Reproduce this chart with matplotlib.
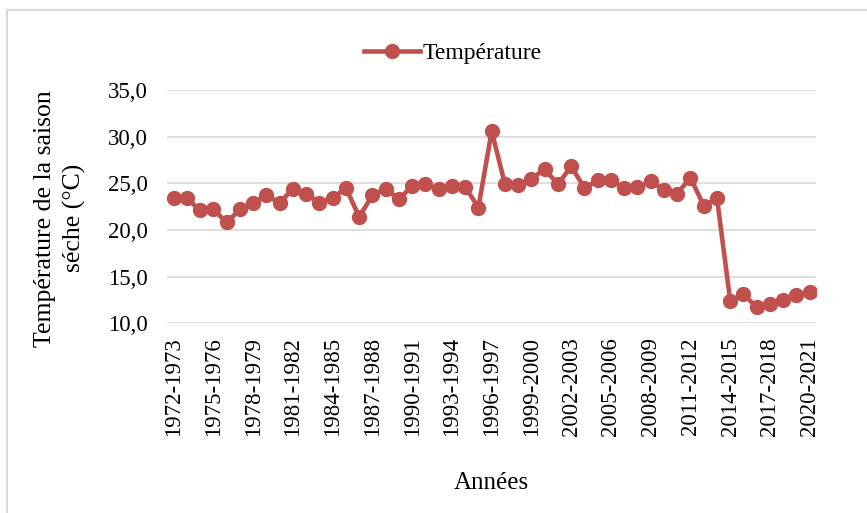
import matplotlib.pyplot as plt
from matplotlib.ticker import FuncFormatter
from matplotlib.lines import Line2D

plt.rcParams['font.family'] = ['Liberation Serif', 'DejaVu Serif']

# saisons 1972-1973 ... 2020-2021
annees = [f"{y}-{y + 1}" for y in range(1972, 2021)]
temperature = [23.4, 23.4, 22.1, 22.2, 20.8, 22.2, 22.9, 23.7, 22.9, 24.4,
               23.9, 22.9, 23.4, 24.5, 21.4, 23.7, 24.4, 23.3, 24.7, 24.9,
               24.4, 24.7, 24.6, 22.4, 30.6, 24.9, 24.8, 25.5, 26.5, 24.9,
               26.8, 24.5, 25.3, 25.3, 24.5, 24.6, 25.2, 24.3, 23.9, 25.6,
               22.6, 23.4, 12.4, 13.1, 11.7, 12.1, 12.5, 13.0, 13.3]
yticks = [10, 15, 20, 25, 30, 35]

fig = plt.figure(figsize=(8.67, 5.13), dpi=100)
ax = fig.add_axes([0.1926, 0.370, 0.749, 0.4546])

x = list(range(len(annees)))
ax.plot(x, temperature, color='#C0504D', marker='o', markersize=10,
        linewidth=3.3, label='Température')

ax.set_xlim(-0.5, len(annees) - 0.5)
ax.set_ylim(10, 35)
ax.set_yticks(yticks)
ax.yaxis.set_major_formatter(FuncFormatter(lambda v, p: f"{v:.1f}".replace('.', ',')))
ax.set_xticks(x[::3])
ax.set_xticklabels(annees[::3], rotation=90)
ax.tick_params(axis='both', length=0, labelsize=16.5)
ax.tick_params(axis='x', pad=10)
ax.tick_params(axis='y', pad=14)
ax.grid(axis='y', color='#D9D9D9', linewidth=1.2)
ax.set_axisbelow(True)
for s in ax.spines.values():
    s.set_visible(False)

ax.set_xlabel('Années', fontsize=18, labelpad=26)
ax.set_ylabel('Température de la saison\nséche (°C)', fontsize=18.5,
              linespacing=1.4)
ax.yaxis.set_label_coords(-0.125, 0.45)

ax.legend(loc='lower center', bbox_to_anchor=(0.44, 1.02), frameon=False,
          fontsize=17, handlelength=2.4, handletextpad=0.1)

# bordure de la zone graphique
fig.add_artist(Line2D([7 / 867, 1], [1 - 10 / 513, 1 - 10 / 513],
                      color='#D9D9D9', linewidth=1.5, transform=fig.transFigure))
fig.add_artist(Line2D([7 / 867, 7 / 867], [0, 1 - 10 / 513],
                      color='#D9D9D9', linewidth=1.5, transform=fig.transFigure))

fig.savefig('out.png', dpi=100)
